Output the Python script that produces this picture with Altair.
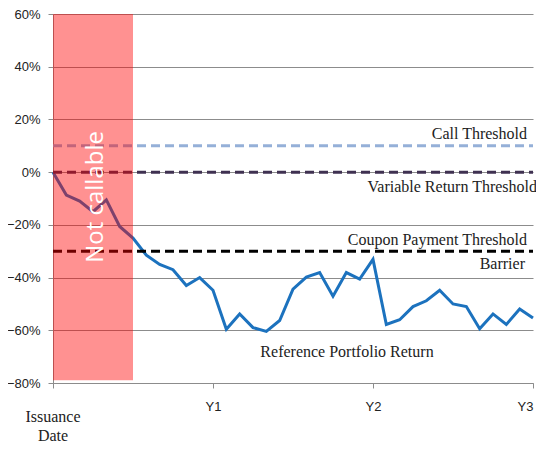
import altair as alt
import pandas as pd

# ---- data ----
months = list(range(37))
portfolio = [0.0, -8.7, -11.0, -15.0, -10.5, -20.6, -25.0, -31.5, -35.0, -37.0,
             -43.0, -40.0, -44.8, -59.6, -53.8, -59.0, -60.4, -56.3, -44.4, -39.8,
             -38.1, -47.1, -38.1, -40.6, -33.1, -57.8, -56.0, -51.0, -48.8, -44.8,
             -50.0, -51.0, -59.4, -53.8, -57.8, -51.9, -55.3]

threshold_names = ["Call Threshold", "Variable Return Threshold", "Barrier"]
threshold_values = [10, 0, -30]
threshold_colors = ["#95B0D8", "#3F3151", "#000000"]

year_ticks = [0, 12, 24, 36]
year_labels = ["", "Y1", "Y2", "Y3"]

not_callable_end = 6  # months
not_callable_bottom = -79

# ---- frames ----
line_df = pd.DataFrame({"m": months, "v": [p / 100 for p in portfolio]})
thr_df = pd.DataFrame({
    "name": threshold_names,
    "v": [t / 100 for t in threshold_values],
    "color": threshold_colors,
    "x0": [0] * 3,
    "x1": [36] * 3,
})
rect_df = pd.DataFrame({"x0": [0], "x1": [not_callable_end], "y0": [0.6],
                        "y1": [not_callable_bottom / 100]})

label_expr = ("datum.value == 12 ? 'Y1' : datum.value == 24 ? 'Y2' : "
              "datum.value == 36 ? 'Y3' : ''")

x_scale = alt.Scale(domain=[0, 36], nice=False, zero=False)
y_scale = alt.Scale(domain=[-0.8, 0.6], nice=False)

x_enc = alt.X("m:Q", scale=x_scale, axis=alt.Axis(
    values=year_ticks, labelExpr=label_expr, grid=False, title=None,
    domainColor="#8C8C8C", tickColor="#8C8C8C", tickSize=5, labelPadding=12,
    labelFont="Liberation Sans", labelFontSize=13, labelColor="#222222",
    labelAngle=0))
y_enc = alt.Y("v:Q", scale=y_scale, axis=alt.Axis(
    values=[-0.8, -0.6, -0.4, -0.2, 0, 0.2, 0.4, 0.6], format=".0%",
    grid=True, gridColor="#8C8C8C", gridWidth=1, title=None,
    domainColor="#8C8C8C", tickColor="#8C8C8C", tickSize=5, labelPadding=8,
    labelFont="Liberation Sans", labelFontSize=13, labelColor="#222222"))

base_line = alt.Chart(line_df).mark_line(color="#1C72BE", strokeWidth=3).encode(
    x=x_enc, y=y_enc)

rules = alt.Chart(thr_df).mark_rule(strokeWidth=3, strokeDash=[9, 5]).encode(
    x=alt.X("x0:Q", scale=x_scale),
    x2="x1:Q",
    y=alt.Y("v:Q", scale=y_scale),
    color=alt.Color("color:N", scale=None),
)

rect = alt.Chart(rect_df).mark_rect(color="#FF0000", opacity=0.43).encode(
    x=alt.X("x0:Q", scale=x_scale), x2="x1:Q",
    y=alt.Y("y0:Q", scale=y_scale), y2="y1:Q")

nc_df = pd.DataFrame({"m": [3.2], "v": [-0.094], "t": ["Not callable"]})
nc_text = alt.Chart(nc_df).mark_text(
    angle=270, color="white", font="Open Sans", fontSize=24,
    align="center", baseline="middle").encode(
    x=alt.X("m:Q", scale=x_scale), y=alt.Y("v:Q", scale=y_scale), text="t:N")

ann_df = pd.DataFrame({
    "m": [36, 36, 36, 36],
    "v": [0.10, 0.0, -0.30, -0.30],
    "t": ["Call Threshold", "Variable Return Threshold", "Coupon Payment Threshold", "Barrier"],
    "dx": [-6, 4, -6, -8],
    "dy": [-12, 15, -11, 13],
})
serif = "Liberation Serif"
ann_layers = []
for _, r in ann_df.iterrows():
    ann_layers.append(
        alt.Chart(pd.DataFrame([r])).mark_text(
            font=serif, fontSize=16, color="#222222", align="right",
            baseline="middle", dx=int(r["dx"]), dy=int(r["dy"])).encode(
            x=alt.X("m:Q", scale=x_scale), y=alt.Y("v:Q", scale=y_scale), text="t:N"))

ref_df = pd.DataFrame({"m": [22.05], "v": [-0.683], "t": ["Reference Portfolio Return"]})
ref_text = alt.Chart(ref_df).mark_text(
    font=serif, fontSize=16, color="#222222", align="center", baseline="middle").encode(
    x=alt.X("m:Q", scale=x_scale), y=alt.Y("v:Q", scale=y_scale), text="t:N")

iss_df = pd.DataFrame({"m": [0, 0], "v": [-0.8, -0.8], "t": ["Issuance", "Date"], "dy": [34, 53]})
iss_layers = []
for _, r in iss_df.iterrows():
    iss_layers.append(
        alt.Chart(pd.DataFrame([r])).mark_text(
            font=serif, fontSize=16, color="#222222", align="center",
            baseline="middle", dy=int(r["dy"])).encode(
            x=alt.X("m:Q", scale=x_scale), y=alt.Y("v:Q", scale=y_scale), text="t:N"))

chart = alt.layer(base_line, rules, rect, nc_text, ref_text, *ann_layers, *iss_layers).properties(
    width=480, height=369,
    padding={"left": 45, "top": 6, "right": 3, "bottom": 65},
    autosize=alt.AutoSizeParams(type="none"),
).configure_view(stroke=None).configure_axis(
    domainWidth=1, tickWidth=1)

chart.save("out.html", embed_options={"renderer": "svg", "actions": False})
